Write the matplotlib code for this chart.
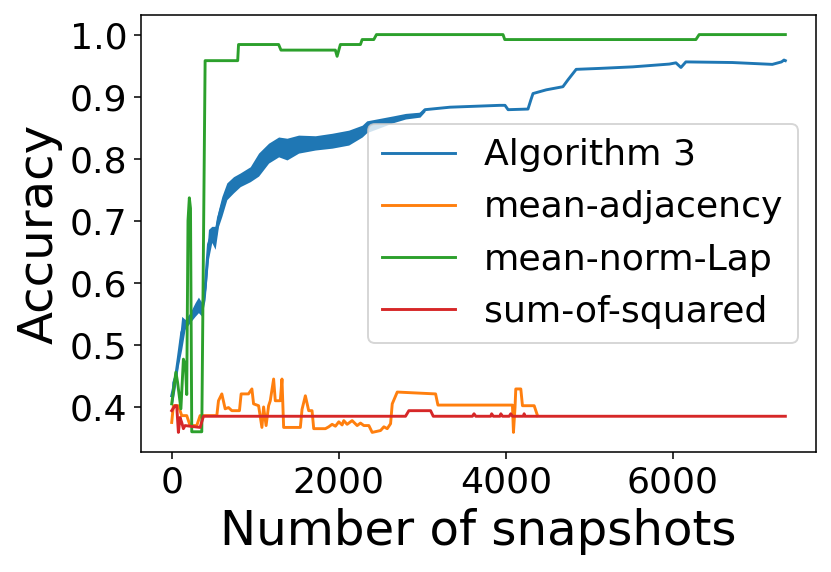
"""Accuracy versus number of snapshots for four clustering methods."""

import matplotlib

matplotlib.use("Agg")
import matplotlib.pyplot as plt
from matplotlib.ticker import MultipleLocator


# Algorithm 3: centre line
blue_x = [0, 40, 80, 120, 160, 220, 280, 320, 360, 400, 440, 480, 520, 560, 600,
          660, 740, 820, 940, 1040, 1160, 1280, 1380, 1519, 1719, 1920, 2119,
          2280, 2335, 2650, 2800, 2972, 3032, 3331, 3927, 3990, 4027, 4265,
          4300, 4325, 4484, 4683, 4743, 4842, 5120, 5519, 5957, 6036, 6096,
          6155, 6710, 7190, 7300, 7330, 7346]
blue_y = [0.418, 0.442, 0.48, 0.52, 0.533, 0.544, 0.557, 0.565, 0.555, 0.592,
          0.662, 0.678, 0.672, 0.705, 0.723, 0.748, 0.758, 0.766, 0.774, 0.79,
          0.809, 0.819, 0.815, 0.824, 0.826, 0.829, 0.834, 0.845, 0.851, 0.863,
          0.868, 0.871, 0.879, 0.883, 0.886, 0.886, 0.879, 0.880, 0.895, 0.905,
          0.911, 0.916, 0.927, 0.944, 0.9455, 0.948, 0.9525, 0.9545, 0.947,
          0.956, 0.955, 0.952, 0.956, 0.959, 0.958]

# Algorithm 3: the noisy band (lower and upper edge) in the first snapshots
band_x = [0, 40, 80, 120, 160, 220, 280, 320, 360, 400, 440, 480, 520, 560,
          600, 660, 740, 820, 940, 1040, 1160, 1280, 1380, 1519, 1719, 1920,
          2119, 2280, 2335, 2650, 2800, 2972, 3032]
band_lo = [0.397, 0.429, 0.466, 0.493, 0.525, 0.536, 0.546, 0.552, 0.546,
           0.573, 0.638, 0.665, 0.654, 0.691, 0.707, 0.734, 0.745, 0.755,
           0.763, 0.772, 0.793, 0.803, 0.798, 0.809, 0.814, 0.817, 0.822,
           0.835, 0.842, 0.858, 0.864, 0.867, 0.876]
band_hi = [0.44, 0.456, 0.493, 0.546, 0.541, 0.552, 0.568, 0.577, 0.568,
           0.611, 0.686, 0.691, 0.691, 0.718, 0.739, 0.761, 0.771, 0.777,
           0.787, 0.809, 0.825, 0.835, 0.833, 0.838, 0.837, 0.841, 0.846,
           0.854, 0.861, 0.869, 0.873, 0.875, 0.881]

# mean-adjacency
orange_x = [0, 20, 80, 120, 180, 220, 300, 340, 380, 540, 560, 600, 640, 680,
            720, 811, 831, 919, 960, 980, 1040, 1080, 1100, 1130, 1160, 1180,
            1220, 1240, 1300, 1320, 1340, 1540, 1560, 1600, 1640, 1680, 1700,
            1840, 1880, 1920, 1960, 2000, 2040, 2060, 2100, 2160, 2220, 2260,
            2300, 2360, 2400, 2500, 2540, 2580, 2620, 2640, 2700, 3159, 3187,
            4079, 4091, 4110, 4119, 4179, 4199, 4339, 4379]
orange_y = [0.375, 0.402, 0.402, 0.386, 0.386, 0.37, 0.37, 0.386, 0.386,
            0.386, 0.41, 0.421, 0.397, 0.399, 0.394, 0.394, 0.421, 0.421,
            0.429, 0.405, 0.402, 0.367, 0.40, 0.37, 0.402, 0.41, 0.445, 0.41,
            0.41, 0.445, 0.367, 0.367, 0.396, 0.418, 0.394, 0.394, 0.365,
            0.365, 0.368, 0.372, 0.369, 0.376, 0.371, 0.378, 0.372, 0.378,
            0.37, 0.374, 0.37, 0.37, 0.359, 0.362, 0.368, 0.365, 0.373, 0.405,
            0.424, 0.421, 0.403, 0.403, 0.359, 0.40, 0.429, 0.429, 0.402,
            0.402, 0.386]

# mean-norm-Lap
green_x = [0, 50, 70, 110, 140, 165, 180, 195, 211, 225, 240, 360, 400, 790,
           800, 1280, 1308, 1959, 1980, 2019, 2259, 2280, 2419, 2451, 3966,
           3987, 6275, 6314, 7346]
green_y = [0.405, 0.456, 0.44, 0.397, 0.477, 0.466, 0.42, 0.70, 0.737, 0.72,
           0.36, 0.36, 0.958, 0.958, 0.984, 0.984, 0.975, 0.975, 0.965, 0.984,
           0.984, 0.992, 0.992, 1.0, 1.0, 0.992, 0.992, 1.0, 1.0]

# sum-of-squared
red_x = [0, 40, 60, 80, 100, 120, 140, 160, 340, 380, 2799, 2839, 3099, 3131,
         3600, 3619, 3640, 3819, 3830, 3850, 3930, 3940, 3960, 4040, 4059,
         4080, 4210, 4219, 4230, 7346]
red_y = [0.394, 0.402, 0.402, 0.359, 0.383, 0.375, 0.365, 0.37, 0.367, 0.385,
         0.385, 0.394, 0.394, 0.385, 0.385, 0.389, 0.385, 0.385, 0.389, 0.385,
         0.385, 0.389, 0.385, 0.385, 0.389, 0.385, 0.385, 0.389, 0.385, 0.385]


fig = plt.figure(figsize=(831 / 139, 572 / 139), dpi=139)
ax = fig.add_axes([0.1697, 0.2093, 0.8123, 0.765])

ax.fill_between(band_x, band_lo, band_hi, color="C0", linewidth=0)
ax.plot(blue_x, blue_y, color="C0", label="Algorithm 3")
ax.plot(orange_x, orange_y, color="C1", label="mean-adjacency")
ax.plot(green_x, green_y, color="C2", label="mean-norm-Lap")
ax.plot(red_x, red_y, color="C3", label="sum-of-squared")

ax.yaxis.set_major_locator(MultipleLocator(0.1))
ax.set_xlabel("Number of snapshots", fontsize=25)
ax.set_ylabel("Accuracy", fontsize=25)
ax.tick_params(labelsize=18.8)
ax.legend(fontsize=18.8, loc="center right")

fig.savefig("out.png", dpi=139)
